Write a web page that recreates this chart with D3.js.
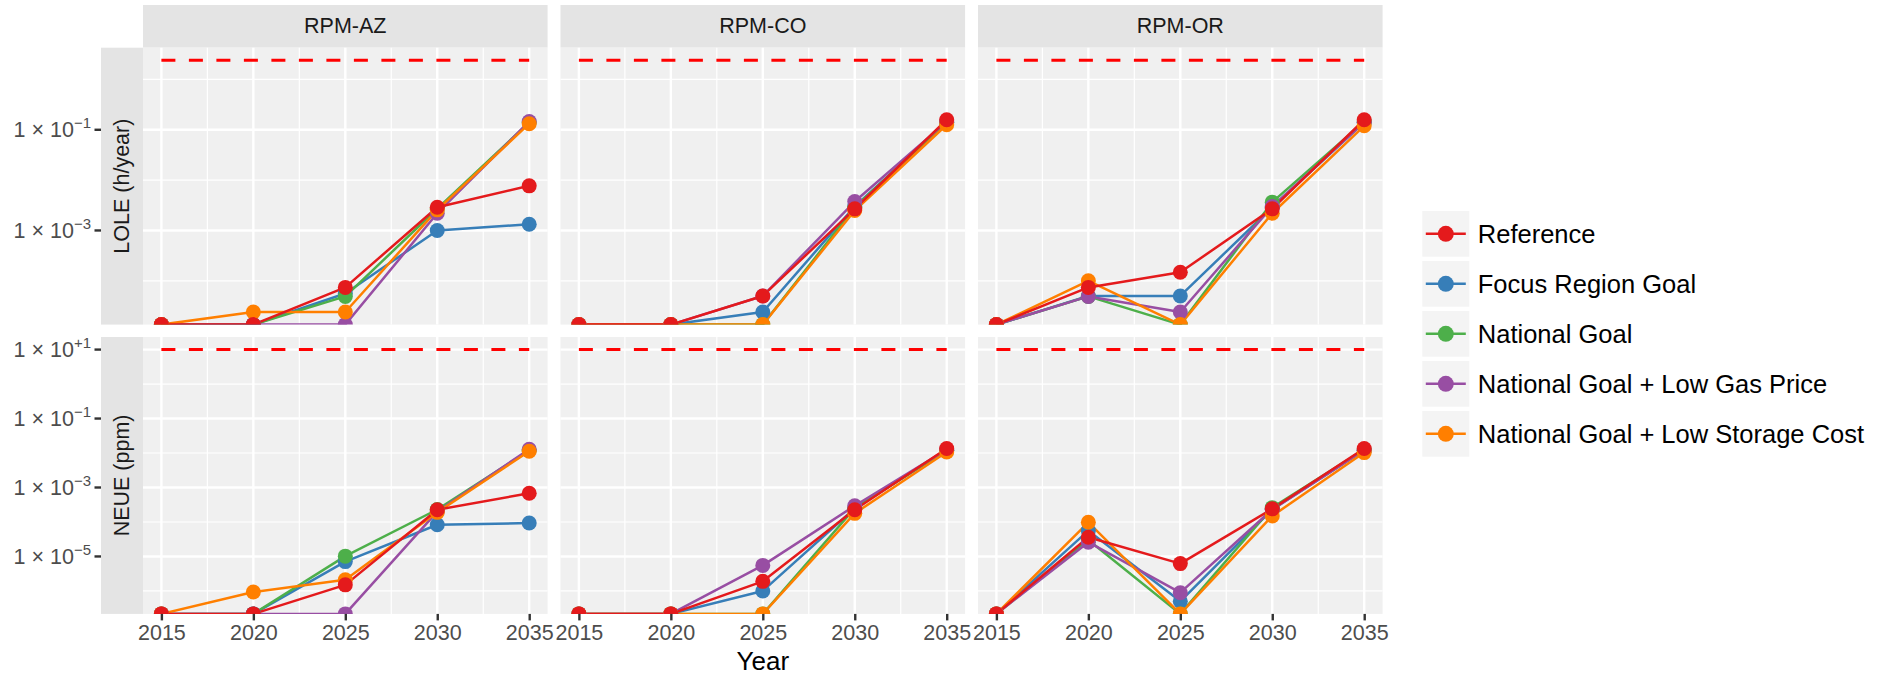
<!DOCTYPE html>
<html>
<head>
<meta charset="utf-8">
<script src="https://cdn.jsdelivr.net/npm/d3@7"></script>
<style>
  html, body { margin: 0; padding: 0; background: #ffffff; }
  svg { display: block; font-family: "Liberation Sans", Arial, sans-serif; }
</style>
</head>
<body>
<svg id="chart" width="1895" height="677"></svg>
<script>
// ---- data -------------------------------------------------------------
const years = [2015, 2020, 2025, 2030, 2035];
const xTicks = [2015, 2020, 2025, 2030, 2035];
const regions = ["RPM-AZ", "RPM-CO", "RPM-OR"];
const metrics = ["LOLE (h/year)", "NEUE (ppm)"];
const thresholds = [2.4, 10];
const scenarios = ["Reference", "Focus Region Goal", "National Goal",
                   "National Goal + Low Gas Price", "National Goal + Low Storage Cost"];
const scenarioColors = ["#E41A1C", "#377EB8", "#4DAF4A", "#984EA3", "#FF7F00"];

// rows follow the scenario order above; columns follow years (0 = no shortfall)
const loleAZ = [
  [0, 0, 7.4e-5, 2.9e-3, 7.7e-3],
  [0, 0, 5.6e-5, 1.0e-3, 1.33e-3],
  [0, 0, 4.9e-5, 2.7e-3, 0.14],
  [0, 0, 0, 2.2e-3, 0.146],
  [0, 2.4e-5, 2.4e-5, 2.57e-3, 0.132]
];
const loleCO = [
  [0, 0, 5.0e-5, 2.69e-3, 0.158],
  [0, 0, 2.4e-5, 3.0e-3, 0.14],
  [0, 0, 0, 2.9e-3, 0.14],
  [0, 0, 5.0e-5, 3.76e-3, 0.145],
  [0, 0, 0, 2.49e-3, 0.126]
];
const loleOR = [
  [0, 7.4e-5, 1.48e-4, 2.69e-3, 0.158],
  [0, 5.0e-5, 5.0e-5, 2.9e-3, 0.14],
  [0, 4.9e-5, 0, 3.65e-3, 0.145],
  [0, 4.9e-5, 2.4e-5, 3.0e-3, 0.14],
  [0, 1.0e-4, 0, 2.2e-3, 0.12]
];
const neueAZ = [
  [0, 0, 1.5e-6, 2.27e-4, 6.8e-4],
  [0, 0, 7.1e-6, 8.3e-5, 9.3e-5],
  [0, 0, 1.02e-5, 2.3e-4, 0.012],
  [0, 0, 0, 2.0e-4, 0.0129],
  [0, 9.3e-7, 2.1e-6, 1.9e-4, 0.0113]
];
const neueCO = [
  [0, 0, 1.9e-6, 2.27e-4, 0.0135],
  [0, 0, 1.0e-6, 2.5e-4, 0.012],
  [0, 0, 0, 2.5e-4, 0.012],
  [0, 0, 5.5e-6, 2.95e-4, 0.0125],
  [0, 0, 0, 1.78e-4, 0.0107]
];
const neueOR = [
  [0, 3.6e-5, 6.2e-6, 2.4e-4, 0.0135],
  [0, 5.6e-5, 5.0e-7, 2.3e-4, 0.012],
  [0, 3.0e-5, 0, 2.6e-4, 0.0125],
  [0, 2.6e-5, 8.9e-7, 2.3e-4, 0.012],
  [0, 9.8e-5, 0, 1.5e-4, 0.0103]
];
const panelData = [[loleAZ, loleCO, loleOR], [neueAZ, neueCO, neueOR]];

// ---- layout ------------------------------------------------------------
const panelLeft = 143, panelW = 404.6, panelGap = 12.9;
const rowTop = [47.7, 337.0], rowH = 276.9;
const stripTop = 5, stripH = 42.7;
const yStripLeft = 101;
const axisTextColor = "#4D4D4D";
const panelBg = "#F0F0F0", stripBg = "#E4E4E4";
const drawOrder = [1, 2, 3, 4, 0];   // Reference drawn on top

const svg = d3.select("#chart");
const defs = svg.append("defs");

function logFmt(k) {
  const s = k > 0 ? "+" + k : (k < 0 ? "\u2212" + (-k) : "0");
  return s;
}

// y scales per row, shared across the row (log scale with 5% expansion)
const yScales = panelData.map((row, r) => {
  const vals = row.flat().flat().filter(v => v > 0).concat([thresholds[r]]);
  const lo = Math.log10(d3.min(vals)), hi = Math.log10(d3.max(vals));
  const pad = (hi - lo) * 0.05;
  return d3.scaleLog()
    .domain([Math.pow(10, lo - pad), Math.pow(10, hi + pad)])
    .range([rowTop[r] + rowH, rowTop[r]]);
});

regions.forEach((reg, c) => {
  const x0 = panelLeft + c * (panelW + panelGap);
  const x = d3.scaleLinear().domain([2014, 2036]).range([x0, x0 + panelW]);

  // top strip
  svg.append("rect").attr("x", x0).attr("y", stripTop)
    .attr("width", panelW).attr("height", stripH).attr("fill", stripBg);
  svg.append("text").attr("x", x0 + panelW / 2).attr("y", stripTop + stripH / 2)
    .attr("text-anchor", "middle").attr("dominant-baseline", "central")
    .attr("font-size", 21.5).attr("fill", "#1A1A1A").text(reg);

  metrics.forEach((m, r) => {
    const y = yScales[r];
    const top = rowTop[r], bottom = rowTop[r] + rowH;
    const yPos = v => v > 0 ? y(v) : bottom;
    const clipId = `clip-${r}-${c}`;
    defs.append("clipPath").attr("id", clipId).append("rect")
      .attr("x", x0).attr("y", top).attr("width", panelW).attr("height", rowH);

    const g = svg.append("g");
    g.append("rect").attr("x", x0).attr("y", top)
      .attr("width", panelW).attr("height", rowH).attr("fill", panelBg);

    // grid
    const [dLo, dHi] = y.domain().map(Math.log10);
    const decades = d3.range(Math.ceil(dLo), Math.floor(dHi) + 1);
    const majorK = decades.filter(k => Math.abs(k % 2) === 1);
    const minorK = decades.filter(k => k % 2 === 0);
    const xMinor = xTicks.slice(0, -1).map(t => t + 2.5);

    g.selectAll(".ymin").data(minorK).join("line")
      .attr("x1", x0).attr("x2", x0 + panelW)
      .attr("y1", k => y(Math.pow(10, k))).attr("y2", k => y(Math.pow(10, k)))
      .attr("stroke", "#fff").attr("stroke-width", 1.2);
    g.selectAll(".xmin").data(xMinor).join("line")
      .attr("x1", t => x(t)).attr("x2", t => x(t))
      .attr("y1", top).attr("y2", bottom)
      .attr("stroke", "#fff").attr("stroke-width", 1.2);
    g.selectAll(".ymaj").data(majorK).join("line")
      .attr("x1", x0).attr("x2", x0 + panelW)
      .attr("y1", k => y(Math.pow(10, k))).attr("y2", k => y(Math.pow(10, k)))
      .attr("stroke", "#fff").attr("stroke-width", 2.4);
    g.selectAll(".xmaj").data(xTicks).join("line")
      .attr("x1", t => x(t)).attr("x2", t => x(t))
      .attr("y1", top).attr("y2", bottom)
      .attr("stroke", "#fff").attr("stroke-width", 2.4);

    // threshold
    g.append("line")
      .attr("x1", x(years[0])).attr("x2", x(years[years.length - 1]))
      .attr("y1", y(thresholds[r])).attr("y2", y(thresholds[r]))
      .attr("stroke", "#FF0000").attr("stroke-width", 3)
      .attr("stroke-dasharray", "14,13.5");

    // series
    const series = panelData[r][c];
    const plot = g.append("g").attr("clip-path", `url(#${clipId})`);
    const line = d3.line().x((v, i) => x(years[i])).y(v => yPos(v));
    drawOrder.forEach(s => {
      plot.append("path").attr("d", line(series[s]))
        .attr("fill", "none").attr("stroke", scenarioColors[s])
        .attr("stroke-width", 2.5).attr("stroke-linejoin", "round");
    });
    drawOrder.forEach(s => {
      plot.selectAll(null).data(series[s]).join("circle")
        .attr("cx", (v, i) => x(years[i])).attr("cy", v => yPos(v))
        .attr("r", 7.5).attr("fill", scenarioColors[s]);
    });

    // x axis (bottom row only)
    if (r === metrics.length - 1) {
      const ax = svg.append("g").attr("transform", `translate(0,${bottom})`)
        .call(d3.axisBottom(x).tickValues(xTicks).tickFormat(d3.format("d"))
          .tickSize(6.5).tickPadding(4));
      ax.select(".domain").remove();
      ax.selectAll(".tick line").attr("stroke", "#333333").attr("stroke-width", 2.4);
      ax.selectAll(".tick text").attr("fill", axisTextColor)
        .attr("font-size", 21.5).attr("font-family", "Liberation Sans, Arial, sans-serif");
    }

    // left strip + y axis (first column only)
    if (c === 0) {
      svg.append("rect").attr("x", yStripLeft).attr("y", top)
        .attr("width", x0 - yStripLeft).attr("height", rowH).attr("fill", stripBg);
      const cx = (yStripLeft + x0) / 2, cy = top + rowH / 2;
      svg.append("text").attr("transform", `translate(${cx},${cy}) rotate(-90)`)
        .attr("text-anchor", "middle").attr("dominant-baseline", "central")
        .attr("font-size", 21.5).attr("fill", "#1A1A1A").text(m);

      const ay = svg.append("g");
      majorK.forEach(k => {
        const yy = y(Math.pow(10, k));
        ay.append("line").attr("x1", yStripLeft - 6.5).attr("x2", yStripLeft)
          .attr("y1", yy).attr("y2", yy).attr("stroke", "#333333").attr("stroke-width", 2.4);
        const t = ay.append("text").attr("x", yStripLeft - 10).attr("y", yy + 7.5)
          .attr("text-anchor", "end").attr("font-size", 21.5).attr("fill", axisTextColor);
        t.append("tspan").text("1 \u00D7 10");
        t.append("tspan").attr("dy", -9).attr("font-size", 15).text(logFmt(k));
      });
    }
  });
});

// x axis title
const xMid = panelLeft + (regions.length * panelW + (regions.length - 1) * panelGap) / 2;
svg.append("text").attr("x", xMid).attr("y", 670)
  .attr("text-anchor", "middle").attr("font-size", 26).attr("fill", "#000").text("Year");

// legend
const legX = 1422.3, legY = 211, keyW = 47, keyH = 45.7, keyStep = 50;
const leg = svg.append("g");
scenarios.forEach((name, i) => {
  const ky = legY + i * keyStep;
  leg.append("rect").attr("x", legX).attr("y", ky).attr("width", keyW).attr("height", keyH)
    .attr("fill", "#F4F4F4");
  leg.append("line").attr("x1", legX + 3.5).attr("x2", legX + keyW - 3.5)
    .attr("y1", ky + keyH / 2).attr("y2", ky + keyH / 2)
    .attr("stroke", scenarioColors[i]).attr("stroke-width", 2.5);
  leg.append("circle").attr("cx", legX + keyW / 2).attr("cy", ky + keyH / 2)
    .attr("r", 8).attr("fill", scenarioColors[i]);
  leg.append("text").attr("x", legX + keyW + 8.5).attr("y", ky + keyH / 2)
    .attr("dominant-baseline", "central").attr("font-size", 25.5).attr("fill", "#000")
    .text(name);
});
</script>
</body>
</html>
